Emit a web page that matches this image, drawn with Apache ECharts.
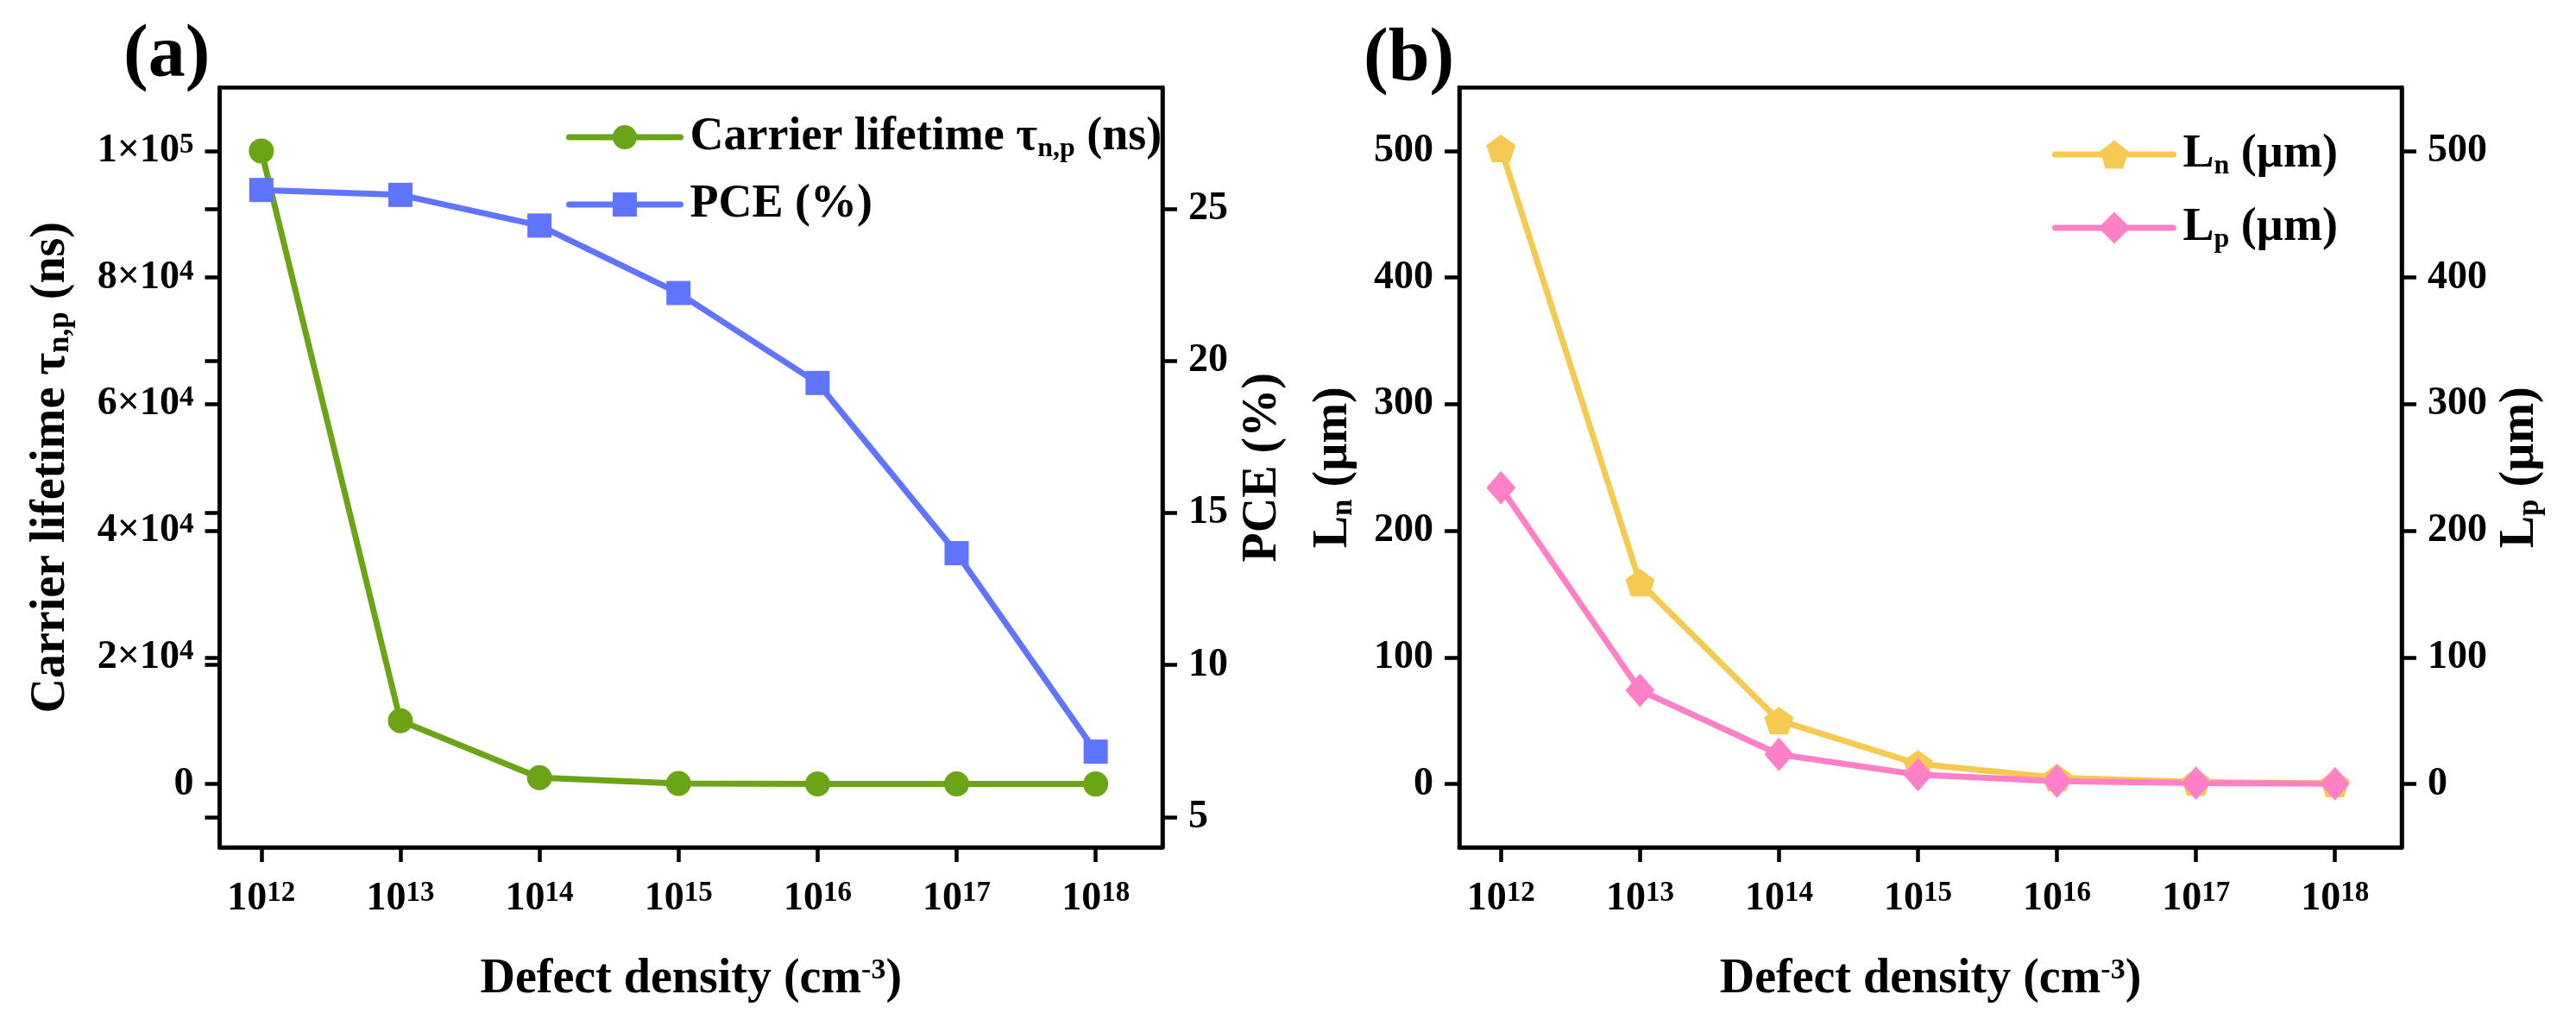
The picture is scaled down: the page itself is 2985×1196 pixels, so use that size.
<!DOCTYPE html>
<html>
<head>
<meta charset="utf-8">
<title>Defect density</title>
<script src="https://cdn.jsdelivr.net/npm/echarts@6.0.0/dist/echarts.min.js"></script>
<style>
  html, body { margin: 0; padding: 0; background: #fff; }
  #chart { width: 2985px; height: 1196px; }
</style>
</head>
<body>
<div id="chart"></div>
<script>
// defect density, stored as the power of ten (cm^-3)
const densityExp = [12, 13, 14, 15, 16, 17, 18];
const lifetime = [1e5, 1e4, 1e3, 1e2, 10, 1, 0.1];            // ns
const pce = [25.63, 25.47, 24.46, 22.24, 19.28, 13.68, 7.15];  // %
const lengthN = [502, 159, 50.2, 15.9, 5.0, 1.6, 0.5];         // um
const lengthP = [234, 74, 23.4, 7.4, 2.3, 0.7, 0.2];           // um

const lifetimeTicks = [0, 2e4, 4e4, 6e4, 8e4, 1e5];
const pceTicks = [5, 10, 15, 20, 25];
const lengthTicks = [0, 100, 200, 300, 400, 500];

const FONT = '"Liberation Serif", "Times New Roman", serif';
const GREEN = '#6ba517', BLUE = '#6075ff', YELLOW = '#f6ca50', PINK = '#ff80c6';
const PENTAGON = 'path://M50 0 L97.55 34.55 L79.39 90.45 L20.61 90.45 L2.45 34.55 Z';

const pairs = (ys) => densityExp.map((x, i) => [x, ys[i]]);

const tickRich = {
  b: { fontSize: 46, fontWeight: 'bold', fontFamily: FONT, color: '#000', lineHeight: 46 },
  sup: { fontSize: 33, fontWeight: 'bold', fontFamily: FONT, color: '#000', lineHeight: 17, verticalAlign: 'top' }
};
const nameStyle = {
  fontSize: 56, fontWeight: 'bold', fontFamily: FONT, color: '#000', lineHeight: 56,
  rich: {
    sub: { fontSize: 35, fontWeight: 'bold', fontFamily: FONT, color: '#000', lineHeight: 9, verticalAlign: 'bottom' },
    sup: { fontSize: 34, fontWeight: 'bold', fontFamily: FONT, color: '#000', lineHeight: 20, verticalAlign: 'top' }
  }
};
const axisLine = { show: true, onZero: false, lineStyle: { color: '#000', width: 4.5 } };
const tickStyle = (vals) => ({ show: true, inside: false, length: 17, lineStyle: { color: '#000', width: 4.5 }, customValues: vals });

const sciLabel = (v) => {
  if (v === 0) return '{b|0}';
  const e = Math.floor(Math.log10(v) + 1e-9);
  const m = Math.round(v / Math.pow(10, e));
  return '{b|' + m + '×10}{sup|' + e + '}';
};

const xAxisFor = (gridIndex) => ({
  type: 'value', gridIndex, min: 11.7, max: 18.48,
  name: 'Defect density (cm{sup|-3})', nameLocation: 'middle', nameGap: 126, nameTextStyle: nameStyle,
  axisLine, axisTick: tickStyle(densityExp), splitLine: { show: false },
  axisLabel: { customValues: densityExp, margin: 37, formatter: (v) => '{b|10}{sup|' + v + '}', rich: tickRich }
});

const yAxisFor = (opt) => Object.assign({
  type: 'value', nameLocation: 'middle', nameRotate: 90, nameTextStyle: nameStyle,
  axisLine, splitLine: { show: false }
}, opt);

const legendRich = {
  sub: { fontSize: 32, fontWeight: 'bold', fontFamily: FONT, color: '#000', lineHeight: 10, verticalAlign: 'bottom' }
};
const legendItem = (name, label, left, top, itemWidth, itemHeight) => ({
  data: [name], left, top, orient: 'vertical', padding: 0, itemWidth, itemHeight,
  selectedMode: false, formatter: () => label,
  lineStyle: { width: 7, cap: 'round' },
  textStyle: { fontFamily: FONT, fontSize: 54, fontWeight: 'bold', color: '#000', lineHeight: 60, padding: [0, 0, 0, 6], rich: legendRich }
});

const chart = echarts.init(document.getElementById('chart'), null, { renderer: 'canvas' });

chart.setOption({
  animation: false,
  backgroundColor: '#fff',
  title: [
    { text: '(a)', left: 143, top: 23, padding: 0, textStyle: { fontSize: 86, fontFamily: FONT, fontWeight: 'bold', color: '#000' } },
    { text: '(b)', left: 1580, top: 27, padding: 0, textStyle: { fontSize: 86, fontFamily: FONT, fontWeight: 'bold', color: '#000' } }
  ],
  grid: [
    { left: 254.5, top: 101.5, width: 1092.5, height: 880.5, show: true, borderColor: '#000', borderWidth: 4.5 },
    { left: 1691, top: 101.5, width: 1092, height: 880.5, show: true, borderColor: '#000', borderWidth: 4.5 }
  ],
  xAxis: [xAxisFor(0), xAxisFor(1)],
  yAxis: [
    yAxisFor({
      gridIndex: 0, position: 'left', min: -1e4, max: 1.1e5,
      name: 'Carrier lifetime τ{sub|n,p} (ns)', nameGap: 167,
      axisTick: tickStyle(lifetimeTicks),
      axisLabel: { customValues: lifetimeTicks, margin: 30, formatter: sciLabel, rich: tickRich }
    }),
    yAxisFor({
      gridIndex: 0, position: 'right', min: 4, max: 29,
      name: 'PCE (%)', nameGap: 89,
      axisTick: tickStyle(pceTicks),
      axisLabel: { customValues: pceTicks, margin: 30, formatter: (v) => '{b|' + v + '}', rich: tickRich }
    }),
    // PCE ticks repeated on the left edge, as in the original figure
    yAxisFor({
      gridIndex: 0, position: 'left', min: 4, max: 29,
      axisLine: { show: false },
      axisTick: tickStyle(pceTicks),
      axisLabel: { show: false, customValues: pceTicks }
    }),
    yAxisFor({
      gridIndex: 1, position: 'left', min: -50, max: 550,
      name: 'L{sub|n} (µm)', nameGap: 117,
      axisTick: tickStyle(lengthTicks),
      axisLabel: { customValues: lengthTicks, margin: 30, formatter: (v) => '{b|' + v + '}', rich: tickRich }
    }),
    yAxisFor({
      gridIndex: 1, position: 'right', min: -50, max: 550,
      name: 'L{sub|p} (µm)', nameGap: 110,
      axisTick: tickStyle(lengthTicks),
      axisLabel: { customValues: lengthTicks, margin: 30, formatter: (v) => '{b|' + v + '}', rich: tickRich }
    })
  ],
  legend: [
    legendItem('lifetime', 'Carrier lifetime τ{sub|n,p} (ns)', 656, 129, 129, 35),
    legendItem('pce', 'PCE (%)', 656, 207, 129, 35),
    legendItem('ln', 'L{sub|n} (µm)', 2378, 149, 137, 41),
    legendItem('lp', 'L{sub|p} (µm)', 2378, 234, 137, 46)
  ],
  series: [
    {
      name: 'lifetime', type: 'line', xAxisIndex: 0, yAxisIndex: 0, data: pairs(lifetime),
      symbol: 'circle', symbolSize: 29, lineStyle: { width: 7, color: GREEN }, itemStyle: { color: GREEN }
    },
    {
      name: 'pce', type: 'line', xAxisIndex: 0, yAxisIndex: 1, data: pairs(pce),
      symbol: 'rect', symbolSize: 28, lineStyle: { width: 7, color: BLUE }, itemStyle: { color: BLUE }
    },
    {
      name: 'ln', type: 'line', xAxisIndex: 1, yAxisIndex: 3, data: pairs(lengthN),
      symbol: PENTAGON, symbolSize: [34, 32], lineStyle: { width: 7, color: YELLOW }, itemStyle: { color: YELLOW }
    },
    {
      name: 'lp', type: 'line', xAxisIndex: 1, yAxisIndex: 4, data: pairs(lengthP),
      symbol: 'diamond', symbolSize: [34, 39], lineStyle: { width: 7, color: PINK }, itemStyle: { color: PINK }
    }
  ]
});
</script>
</body>
</html>
